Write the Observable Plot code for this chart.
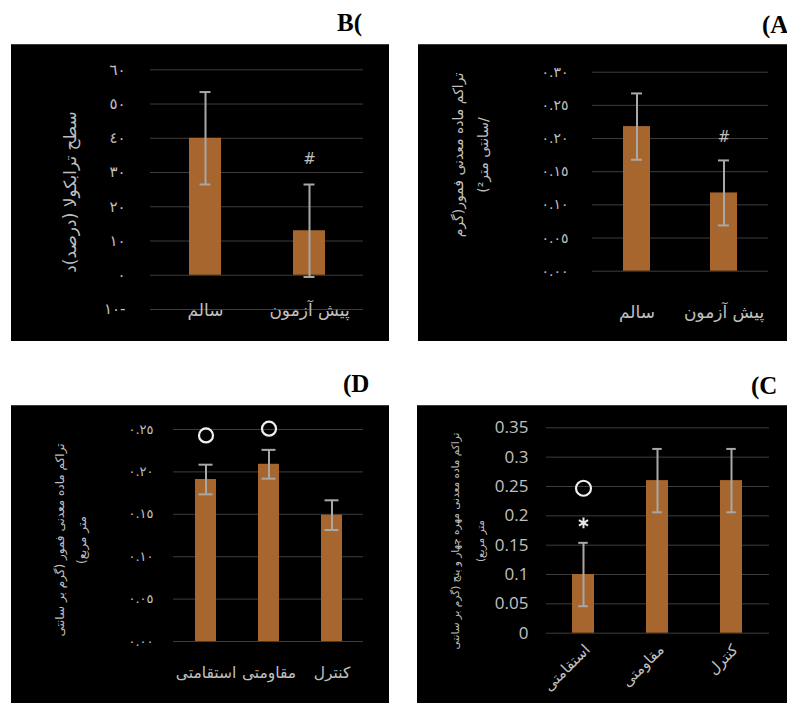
<!DOCTYPE html>
<html><head><meta charset="utf-8">
<script src="https://cdn.jsdelivr.net/npm/d3@7"></script>
<script src="https://cdn.jsdelivr.net/npm/@observablehq/plot@0.6"></script>
<style>
body{margin:0;background:#fff;}
#fig{position:relative;width:787px;height:703px;overflow:hidden;background:#fff;}
.panel{position:absolute;background:#000;box-shadow:inset 0 1px 0 #3a3a3a;}
.panel svg{display:block;overflow:visible;}
.letter{position:absolute;font-family:"Liberation Serif",serif;font-weight:bold;font-size:25px;line-height:1;color:#000;white-space:nowrap;}
.ytitle{position:absolute;transform:translate(-50%,-50%) rotate(-90deg);direction:rtl;white-space:nowrap;color:#bfbfbf;font-family:"DejaVu Sans",sans-serif;text-align:center;}
</style>
</head><body>
<div id="fig"></div>
<script>
// ---------- data ----------
// Panel B
const catsB = ["سالم", "پیش آزمون"];
const meanB = [40, 13];
const errB = [13.5, 13.5];
const ticksB = [-10, 0, 10, 20, 30, 40, 50, 60];
const tickLabelsB = ["١٠-", "٠", "١٠", "٢٠", "٣٠", "٤٠", "٥٠", "٦٠"];
const hashB = [{c: "پیش آزمون", v: 34}];
// Panel A
const catsA = ["سالم", "پیش آزمون"];
const meanA = [0.218, 0.118];
const errA = [0.05, 0.049];
const ticksA = [0, 0.05, 0.10, 0.15, 0.20, 0.25, 0.30];
const tickLabelsA = ["٠.٠٠", "٠.٠٥", "٠.١٠", "٠.١٥", "٠.٢٠", "٠.٢٥", "٠.٣٠"];
const hashA = [{c: "پیش آزمون", v: 0.202}];
// Panel D
const catsD = ["استقامتی", "مقاومتی", "کنترل"];
const meanD = [0.191, 0.209, 0.149];
const errD = [0.0175, 0.017, 0.0175];
const ticksD = [0, 0.05, 0.10, 0.15, 0.20, 0.25];
const tickLabelsD = ["٠.٠٠", "٠.٠٥", "٠.١٠", "٠.١٥", "٠.٢٠", "٠.٢٥"];
const circlesD = [{c: "استقامتی", v: 0.243}, {c: "مقاومتی", v: 0.251}];
// Panel C
const catsC = ["استقامتی", "مقاومتی", "کنترل"];
const meanC = [0.10, 0.26, 0.26];
const errC = [0.054, 0.054, 0.054];
const ticksC = [0, 0.05, 0.10, 0.15, 0.20, 0.25, 0.30, 0.35];
const tickLabelsC = ["0", "0.05", "0.1", "0.15", "0.2", "0.25", "0.3", "0.35"];
const circlesC = [{c: "استقامتی", v: 0.247}];
const starsC = [{c: "استقامتی", v: 0.188}];

// titles
const titleB = ["سطح ترابکولا (درصد)د"];
const titleA = ["تراکم ماده معدنی فمور(گرم", "/سانتی متر²)"];
const titleD = ["تراکم ماده معدنی فمور (گرم بر سانتی", "متر مربع)"];
const titleC = ["تراکم ماده معدنی مهره چهار و پنج (گرم بر سانتی", "متر مربع)"];

// ---------- style ----------
const GRID = "#3d3d3d", TICK = "#c0c0c0", BAR = "#a6662e", ERR = "#a8a8a8";
const AR = "DejaVu Sans";

function barPanel(o) {
  const n = o.cats.length;
  const rows = o.cats.map((c, i) => ({c, v: o.means[i], lo: o.means[i] - o.errs[i], hi: o.means[i] + o.errs[i]}));
  const span = o.width - o.ml - o.mr;
  const step = span / (n - o.pIn + 2 * o.pOut);
  const bw = step * (1 - o.pIn);
  const capInset = Math.max(0, (bw - o.cap) / 2);
  const labelOf = new Map(o.ticks.map((t, i) => [t, o.tickLabels[i]]));
  const marks = [
    Plot.ruleY(o.ticks, {stroke: GRID, strokeWidth: 1}),
    Plot.axisY({ticks: o.ticks, tickFormat: d => labelOf.get(d), tickSize: 0, tickPadding: o.tp,
      fontSize: o.tfs, fontFamily: o.tff, fill: TICK, label: null}),
    Plot.barY(rows, {x: "c", y: "v", fill: BAR}),
    Plot.ruleX(rows, {x: "c", y1: "lo", y2: "hi", stroke: ERR, strokeWidth: 2}),
    Plot.tickY(rows, {x: "c", y: "lo", stroke: ERR, strokeWidth: 2, insetLeft: capInset, insetRight: capInset}),
    Plot.tickY(rows, {x: "c", y: "hi", stroke: ERR, strokeWidth: 2, insetLeft: capInset, insetRight: capInset}),
    Plot.text(o.cats, {x: d => d, text: d => d, frameAnchor: "bottom", dy: o.xdy, dx: o.xdx || 0,
      rotate: o.xrot || 0, textAnchor: o.xanchor || "middle", lineAnchor: "middle",
      fontSize: o.xfs, fontFamily: AR, fill: TICK})
  ];
  if (o.hash) marks.push(Plot.text(o.hash, {x: "c", y: "v", text: () => "#", fontSize: 15, fontFamily: AR, fill: TICK}));
  if (o.circles) marks.push(Plot.dot(o.circles, {x: "c", y: "v", r: o.cr, stroke: "#f0f0f0", strokeWidth: 2.2, fill: "none"}));
  if (o.stars) marks.push(Plot.dot(o.stars, {x: "c", y: "v", symbol: "asterisk", r: 5, stroke: "#e8e8e8", strokeWidth: 2}));
  return Plot.plot({
    width: o.width, height: o.height,
    marginTop: o.mt, marginBottom: o.mb, marginLeft: o.ml, marginRight: o.mr,
    style: {background: "transparent", color: TICK, overflow: "visible"},
    x: {type: "band", domain: o.cats, paddingInner: o.pIn, paddingOuter: o.pOut, axis: null},
    y: {domain: o.domain, axis: null},
    marks
  });
}

const fig = document.getElementById("fig");
function addPanel(left, top, w, h, plot) {
  const d = document.createElement("div");
  d.className = "panel";
  Object.assign(d.style, {left: left + "px", top: top + "px", width: w + "px", height: h + "px"});
  d.appendChild(plot);
  fig.appendChild(d);
}
function addTitle(lines, cx, cy, fs, lh) {
  const d = document.createElement("div");
  d.className = "ytitle";
  Object.assign(d.style, {left: cx + "px", top: cy + "px", fontSize: fs + "px", lineHeight: lh + "px"});
  d.innerHTML = lines.map(s => s.replace(/&/g, "&amp;").replace(/</g, "&lt;")).join("<br>");
  fig.appendChild(d);
}
function addLetter(txt, left, top) {
  const d = document.createElement("div");
  d.className = "letter";
  d.textContent = txt;
  Object.assign(d.style, {left: left + "px", top: top + "px"});
  fig.appendChild(d);
}

// Panel B
addPanel(11, 44, 378, 297, barPanel({
  width: 378, height: 297, mt: 25.3, mb: 32, ml: 139, mr: 26,
  cats: catsB, means: meanB, errs: errB, domain: [-10, 60], ticks: ticksB, tickLabels: tickLabelsB,
  pIn: 0.695, pOut: 0.362, cap: 11, tp: 25, tfs: 15, tff: AR,
  xdy: 1, xfs: 17, hash: hashB
}));
// Panel A
addPanel(418, 44, 369, 297, barPanel({
  width: 369, height: 297, mt: 27.7, mb: 70.3, ml: 174, mr: 19,
  cats: catsA, means: meanA, errs: errA, domain: [0, 0.30], ticks: ticksA, tickLabels: tickLabelsA,
  pIn: 0.691, pOut: 0.351, cap: 11, tp: 24, tfs: 14, tff: AR,
  xdy: 41, xfs: 17, hash: hashA
}));
// Panel D
addPanel(11, 405, 378, 298, barPanel({
  width: 378, height: 298, mt: 24, mb: 62, ml: 162, mr: 26,
  cats: catsD, means: meanD, errs: errD, domain: [0, 0.25], ticks: ticksD, tickLabels: tickLabelsD,
  pIn: 0.668, pOut: 0.335, cap: 14, tp: 20, tfs: 13, tff: AR,
  xdy: 32, xfs: 15.5, circles: circlesD, cr: 7
}));
// Panel C
addPanel(417, 405, 370, 298, barPanel({
  width: 370, height: 298, mt: 22.3, mb: 70.3, ml: 129, mr: 18,
  cats: catsC, means: meanC, errs: errC, domain: [0, 0.35], ticks: ticksC, tickLabels: tickLabelsC,
  pIn: 0.697, pOut: 0.35, cap: 10, tp: 18, tfs: 17, tff: "Open Sans",
  xdy: 14, xdx: 4, xrot: -45, xanchor: "end", xfs: 15, circles: circlesC, cr: 7.5, stars: starsC
}));

addTitle(titleB, 70, 192, 17, 20);
addTitle(titleA, 470.5, 155, 14, 25);
addTitle(titleD, 71, 540, 12, 22);
addTitle(titleC, 467.5, 541, 10.5, 25);

addLetter("B(", 337, 10);
addLetter("(A", 762, 12);
addLetter("(D", 343, 371);
addLetter("(C", 751, 373);
</script>
</body></html>
